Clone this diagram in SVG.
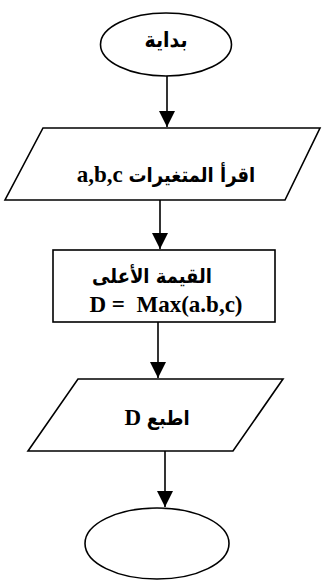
<svg xmlns="http://www.w3.org/2000/svg" width="322" height="585" viewBox="0 0 322 585">
<style>
.s{fill:#fff;stroke:#000;stroke-width:1.6}
.c{stroke:#000;stroke-width:1.6;fill:none}
.t{font-family:"Liberation Serif","DejaVu Sans",serif;font-weight:bold;fill:#000;text-anchor:middle;font-size:23px}
.ar{font-family:"DejaVu Sans Condensed","DejaVu Sans",sans-serif;font-weight:bold}
</style>
<defs>
<marker id="ah" markerUnits="userSpaceOnUse" markerWidth="16" markerHeight="16" viewBox="0 0 16 16" refX="16" refY="8" orient="auto">
<path d="M0,0 L16,8 L0,16 Z" fill="#000"/>
</marker>
</defs>
<rect width="322" height="585" fill="#fff"/>
<g id="connectors">
<line class="c" x1="167" y1="76" x2="167" y2="127" marker-end="url(#ah)"/>
<line class="c" x1="160" y1="200" x2="160" y2="249" marker-end="url(#ah)"/>
<line class="c" x1="158" y1="322" x2="158" y2="378" marker-end="url(#ah)"/>
<line class="c" x1="165" y1="451" x2="165" y2="507" marker-end="url(#ah)"/>
</g>
<g id="start">
<ellipse class="s" cx="166" cy="44.5" rx="65.5" ry="31.5"/>
<text class="t" x="166" y="47" direction="rtl"><tspan class="ar" font-size="21">بداية</tspan></text>
</g>
<g id="read">
<polygon class="s" points="43,128 320,128 285,200 5,200"/>
<text class="t" x="166" y="182" direction="rtl"><tspan class="ar" font-size="20">اقرأ المتغيرات</tspan> a,b,c</text>
</g>
<g id="process">
<rect class="s" x="53" y="250" width="222" height="72"/>
<text class="t" x="152" y="283" direction="rtl"><tspan class="ar" font-size="20">القيمة الأعلى</tspan></text>
<text class="t" x="166" y="312" xml:space="preserve">D =  Max(a.b,c)</text>
</g>
<g id="print">
<polygon class="s" points="78,379 283,379 233,451 28,451"/>
<text class="t" x="157" y="425" direction="rtl"><tspan class="ar" font-size="20">اطبع</tspan> D</text>
</g>
<g id="end">
<ellipse class="s" cx="157" cy="543.5" rx="72" ry="35.5"/>
</g>
</svg>
